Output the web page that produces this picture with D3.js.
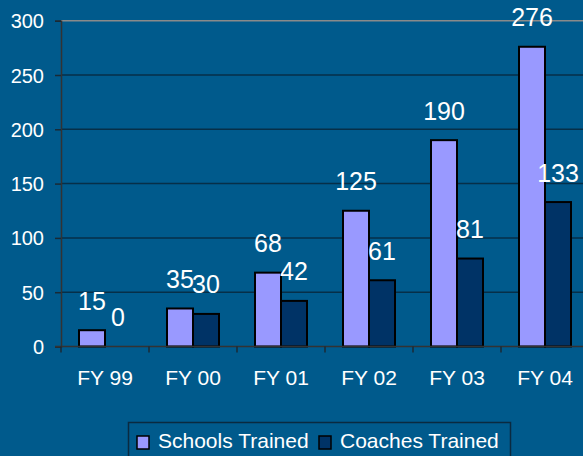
<!DOCTYPE html>
<html>
<head>
<meta charset="utf-8">
<script src="https://cdn.jsdelivr.net/npm/d3@7"></script>
<style>
  body { margin: 0; background: #005a8c; }
  svg { display: block; font-family: "Liberation Sans", Arial, sans-serif; }
  text { fill: #fff; }
</style>
</head>
<body>
<svg id="chart" width="583" height="456"></svg>
<script>
var categories = ["FY 99", "FY 00", "FY 01", "FY 02", "FY 03", "FY 04"];
var seriesNames = ["Schools Trained", "Coaches Trained"];
var schools = [15, 35, 68, 125, 190, 276];
var coaches = [0, 30, 42, 61, 81, 133];
var yTicks = [0, 50, 100, 150, 200, 250, 300];
var colors = ["#9999ff", "#003366"];

var svg = d3.select("#chart");
var plotLeft = 61, plotRight = 589, plotTop = 20.7, plotBottom = 346.5;

var x = d3.scaleBand().domain(categories).range([plotLeft, plotRight]);
var inner = d3.scaleBand().domain(seriesNames).range([18, x.bandwidth() - 18]);
var y = d3.scaleLinear().domain([0, 300]).range([plotBottom, plotTop]);

var rows = categories.map(function(c, i) {
    return {cat: c, values: [schools[i], coaches[i]]};
});

// gridlines
svg.append('g').selectAll('line').data(yTicks.filter(function(t) { return t > 0 && t < 300; }))
    .enter().append('line')
    .attr('x1', plotLeft).attr('x2', 583)
    .attr('y1', function(d) { return y(d); }).attr('y2', function(d) { return y(d); })
    .attr('stroke', '#062f48').attr('stroke-width', 1.5);

// plot border top
svg.append('line')
    .attr('x1', plotLeft).attr('x2', 583).attr('y1', y(300)).attr('y2', y(300))
    .attr('stroke', '#8a8a8a').attr('stroke-width', 1.5);

// bars
var groups = svg.append('g').selectAll('g').data(rows).enter().append('g')
    .attr('transform', function(d) { return "translate(" + x(d.cat) + ",0)"; });

groups.selectAll('rect').data(function(d) { return d.values; })
    .enter().append('rect')
    .attr('x', function(d, i) { return inner(seriesNames[i]); })
    .attr('width', inner.bandwidth())
    .attr('y', function(d) { return y(d); })
    .attr('height', function(d) { return plotBottom - y(d); })
    .attr('fill', function(d, i) { return colors[i]; })
    .attr('stroke', '#000').attr('stroke-width', 2);

groups.selectAll('text').data(function(d) { return d.values; })
    .enter().append('text')
    .attr('x', function(d, i) { return inner(seriesNames[i]) + inner.bandwidth() / 2; })
    .attr('y', function(d) { return y(d) - 20.5; })
    .attr('text-anchor', 'middle')
    .style('font-size', '25px')
    .text(function(d) { return d; });

// y axis
var yAxis = svg.append('g')
    .attr('transform', "translate(" + plotLeft + ",0)")
    .call(d3.axisLeft(y).tickValues(yTicks).tickSize(6).tickPadding(11));
yAxis.select('.domain').attr('stroke', '#333').attr('stroke-width', 1.5);
yAxis.selectAll('.tick line').attr('stroke', '#1a2a35').attr('stroke-width', 1.5);
yAxis.selectAll('.tick text').style('font-size', '20px').attr('fill', '#fff').attr('dy', '0.35em');

// x axis
svg.append('line')
    .attr('x1', plotLeft - 6).attr('x2', 583).attr('y1', plotBottom).attr('y2', plotBottom)
    .attr('stroke', '#333').attr('stroke-width', 1.5);
svg.append('g').selectAll('line').data(categories).enter().append('line')
    .attr('x1', function(d) { return x(d); }).attr('x2', function(d) { return x(d); })
    .attr('y1', plotBottom).attr('y2', plotBottom + 6)
    .attr('stroke', '#1a2a35').attr('stroke-width', 1.5);
svg.append('g').selectAll('text').data(categories).enter().append('text')
    .attr('x', function(d) { return x(d) + x.bandwidth() / 2; })
    .attr('y', 385)
    .attr('text-anchor', 'middle')
    .style('font-size', '21px')
    .text(function(d) { return d; });

// legend
var legend = svg.append('g');
legend.append('rect')
    .attr('x', 128.5).attr('y', 422.5).attr('width', 382).attr('height', 40)
    .attr('fill', 'none').attr('stroke', '#0a2a40').attr('stroke-width', 1.5);
var legendX = [137, 319];
seriesNames.forEach(function(name, i) {
    legend.append('rect')
        .attr('x', legendX[i]).attr('y', 436).attr('width', 12).attr('height', 13)
        .attr('fill', colors[i]).attr('stroke', '#000').attr('stroke-width', 1.5);
    legend.append('text')
        .attr('x', legendX[i] + 21).attr('y', 448)
        .style('font-size', '21px')
        .text(name);
});
</script>
</body>
</html>
